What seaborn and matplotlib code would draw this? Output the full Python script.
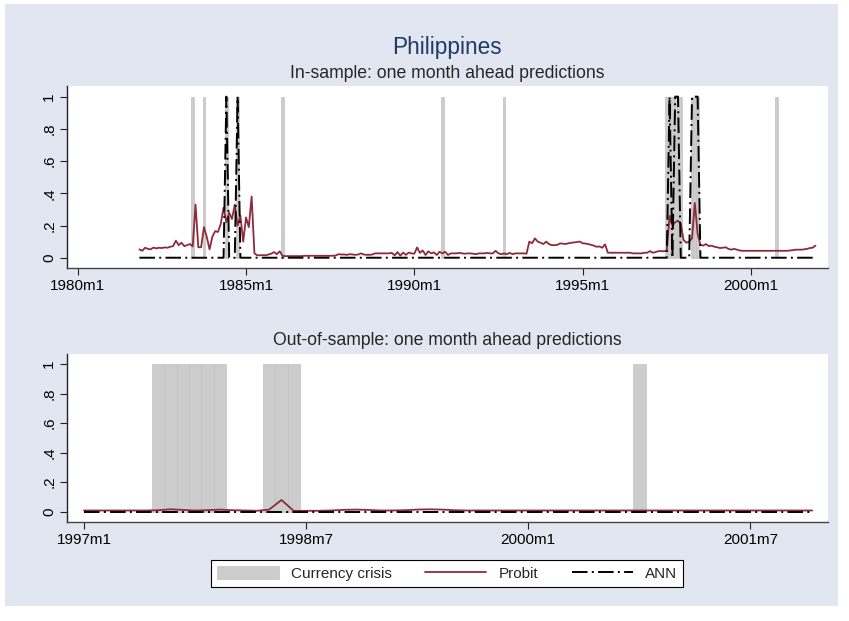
import numpy as np
import pandas as pd
import matplotlib
matplotlib.use("Agg")
import matplotlib.pyplot as plt
import seaborn as sns
from matplotlib.patches import Rectangle, Patch
from matplotlib.lines import Line2D

# Stata-style monthly dates (months since 1960m1)
def stata_month(s):
    y, m = s.split("m")
    return (int(y) - 1960) * 12 + int(m) - 1

# crisis months
crisis_in = ["1983m6", "1983m10", "1984m6", "1984m10", "1986m2", "1990m11",
             "1992m9", "1997m7", "1997m8", "1997m9", "1997m10", "1997m11",
             "1997m12", "1998m4", "1998m5", "1998m6", "2000m10"]
crisis_out = ["1997m7", "1997m8", "1997m9", "1997m10", "1997m11", "1997m12",
              "1998m4", "1998m5", "1998m6", "2000m10"]

# in-sample predictions, 1981m11 - 2001m12
in_start = "1981m11"
probit_in = [
    0.052, 0.043,                                                              # 1981
    0.062, 0.055, 0.052, 0.063, 0.058, 0.062, 0.060, 0.064, 0.062, 0.068, 0.072, 0.106,  # 1982
    0.078, 0.093, 0.072, 0.078, 0.085, 0.070, 0.330, 0.065, 0.065, 0.190, 0.130, 0.052,  # 1983
    0.130, 0.165, 0.160, 0.210, 0.310, 0.220, 0.280, 0.240, 0.330, 0.200, 0.260, 0.100,  # 1984
    0.250, 0.190, 0.380, 0.027, 0.015, 0.015, 0.016, 0.015, 0.020, 0.025, 0.035, 0.022,  # 1985
    0.040, 0.012, 0.010, 0.010, 0.010, 0.010, 0.010, 0.010, 0.010, 0.012, 0.012, 0.012,  # 1986
    0.012, 0.012, 0.012, 0.012, 0.012, 0.012, 0.012, 0.012, 0.014, 0.022, 0.020, 0.020,  # 1987
    0.018, 0.022, 0.020, 0.018, 0.020, 0.027, 0.020, 0.018, 0.018, 0.020, 0.027, 0.027,  # 1988
    0.027, 0.027, 0.027, 0.027, 0.030, 0.015, 0.035, 0.013, 0.032, 0.018, 0.032, 0.027,  # 1989
    0.025, 0.064, 0.030, 0.045, 0.017, 0.040, 0.027, 0.033, 0.017, 0.037, 0.027, 0.037,  # 1990
    0.017, 0.027, 0.027, 0.027, 0.030, 0.027, 0.025, 0.027, 0.027, 0.025, 0.022, 0.027,  # 1991
    0.027, 0.027, 0.030, 0.027, 0.027, 0.043, 0.027, 0.022, 0.027, 0.022, 0.030, 0.022,  # 1992
    0.027, 0.027, 0.027, 0.027, 0.025, 0.100, 0.090, 0.120, 0.100, 0.093, 0.085, 0.100,  # 1993
    0.085, 0.078, 0.078, 0.080, 0.089, 0.087, 0.085, 0.090, 0.093, 0.095, 0.098, 0.100,  # 1994
    0.090, 0.088, 0.085, 0.080, 0.075, 0.068, 0.070, 0.062, 0.083, 0.031, 0.031, 0.031,  # 1995
    0.031, 0.031, 0.031, 0.031, 0.031, 0.031, 0.027, 0.027, 0.027, 0.027, 0.031, 0.031,  # 1996
    0.041, 0.031, 0.035, 0.041, 0.041, 0.040, 0.045, 0.260, 0.200, 0.220, 0.230, 0.210,  # 1997
    0.110, 0.093, 0.100, 0.120, 0.340, 0.150, 0.080, 0.075, 0.085, 0.072, 0.075, 0.068,  # 1998
    0.065, 0.060, 0.062, 0.065, 0.055, 0.050, 0.055, 0.050, 0.045, 0.043, 0.043, 0.043,  # 1999
    0.043, 0.043, 0.043, 0.043, 0.043, 0.043, 0.043, 0.043, 0.043, 0.043, 0.043, 0.043,  # 2000
    0.043, 0.043, 0.045, 0.047, 0.050, 0.050, 0.050, 0.052, 0.055, 0.060, 0.062, 0.075,  # 2001
]
# months where the in-sample ANN signal is 1 (0 otherwise)
ann_in_ones = ["1984m6", "1984m10", "1997m8", "1997m10", "1997m11",
               "1998m4", "1998m5", "1998m6"]

# out-of-sample predictions, 1997m1 - 2001m12 (ANN is 0 throughout)
out_start = "1997m1"
probit_out = [
    0.008, 0.008, 0.008, 0.008, 0.008, 0.008, 0.010, 0.016, 0.012, 0.008, 0.010, 0.014,  # 1997
    0.010, 0.008, 0.006, 0.014, 0.079, 0.005, 0.006, 0.006, 0.008, 0.012, 0.014, 0.012,  # 1998
    0.008, 0.008, 0.010, 0.014, 0.016, 0.014, 0.010, 0.008, 0.008, 0.008, 0.008, 0.008,  # 1999
    0.008, 0.008, 0.008, 0.008, 0.008, 0.008, 0.008, 0.008, 0.008, 0.008, 0.008, 0.008,  # 2000
    0.008, 0.008, 0.008, 0.008, 0.008, 0.008, 0.008, 0.008, 0.008, 0.008, 0.008, 0.008,  # 2001
]

ticks_in = ["1980m1", "1985m1", "1990m1", "1995m1", "2000m1"]
ticks_out = ["1997m1", "1998m7", "2000m1", "2001m7"]
yticks = [0, 0.2, 0.4, 0.6, 0.8, 1]
ylabels = ["0", ".2", ".4", ".6", ".8", "1"]

# tables
t_in = stata_month(in_start) + np.arange(len(probit_in))
ann_set = {stata_month(s) for s in ann_in_ones}
df_in = pd.DataFrame({"t": t_in, "probit": probit_in,
                      "ann": [1.0 if t in ann_set else 0.0 for t in t_in]})
t_out = stata_month(out_start) + np.arange(len(probit_out))
df_out = pd.DataFrame({"t": t_out, "probit": probit_out,
                       "ann": [0.0] * len(probit_out)})

BG = "#E1E6F0"
BAR = "#CCCCCC"
RED = "#8E2B3B"
DASHDOT = (0, (8, 2.2, 1, 2.2))

sns.set_style("ticks")
plt.rcParams["font.family"] = ["Liberation Sans", "DejaVu Sans"]

fig = plt.figure(figsize=(8.49, 6.21), dpi=100, facecolor="white")
fig.patches.append(Rectangle((5 / 849, 1 - 606 / 621), 833 / 849, 602 / 621,
                             transform=fig.transFigure, facecolor=BG,
                             edgecolor="none", zorder=-10))

ax1 = fig.add_axes([0.0793, 0.5689, 0.8957, 0.2926])
ax2 = fig.add_axes([0.0793, 0.1599, 0.8962, 0.2700])


def draw(ax, df, crisis, ticks, xlim, ylim):
    ax.set_facecolor("white")
    xc = [stata_month(s) for s in crisis]
    ax.bar(xc, [1.0] * len(xc), width=1.0, color=BAR, edgecolor="#C2C2C2",
           linewidth=0.5, zorder=1)
    sns.lineplot(data=df, x="t", y="probit", ax=ax, color=RED, lw=1.3,
                 zorder=3, legend=False)
    sns.lineplot(data=df, x="t", y="ann", ax=ax, color="black", lw=1.4,
                 linestyle=DASHDOT, zorder=4, legend=False)
    ax.set_xlim(*xlim)
    ax.set_ylim(*ylim)
    ax.set_xticks([stata_month(s) for s in ticks])
    ax.set_xticklabels(ticks, fontsize=11)
    ax.set_yticks(yticks)
    ax.set_yticklabels(ylabels, fontsize=11, rotation=90, va="center")
    ax.set_xlabel("")
    ax.set_ylabel("")
    for s in ["top", "right"]:
        ax.spines[s].set_visible(False)
    ax.spines["left"].set_color("#222222")
    ax.spines["bottom"].set_color("#444444")
    ax.spines["left"].set_linewidth(1.0)
    ax.spines["bottom"].set_linewidth(1.0)
    ax.tick_params(axis="both", length=5, width=0.8, color="#222222",
                   labelcolor="black", pad=3)


draw(ax1, df_in, crisis_in, ticks_in,
     (stata_month("1980m1") - 3.7, stata_month("1980m1") + 267.4), (-0.062, 1.066))
draw(ax2, df_out, crisis_out, ticks_out,
     (stata_month("1997m1") - 1.35, stata_month("1997m1") + 60.3), (-0.068, 1.068))

fig.text(0.527, 0.923, "Philippines", ha="center", va="center",
         fontsize=16.3, color="#1F3A68")
fig.text(0.527, 0.882, "In-sample: one month ahead predictions",
         ha="center", va="center", fontsize=12.7)
fig.text(0.527, 0.451, "Out-of-sample: one month ahead predictions",
         ha="center", va="center", fontsize=12.7)

handles = [Patch(facecolor=BAR, edgecolor="#C2C2C2", linewidth=0.5),
           Line2D([], [], color=RED, lw=1.3),
           Line2D([], [], color="black", lw=1.4, linestyle=DASHDOT)]
leg = fig.legend(handles, ["Currency crisis", "Probit", "ANN"], ncol=3,
                 loc="center", bbox_to_anchor=(0.527, 0.077), fontsize=11,
                 frameon=True, fancybox=False, edgecolor="black",
                 facecolor="white", framealpha=1, handlelength=4.0,
                 handleheight=0.95, handletextpad=0.8, columnspacing=2.2,
                 borderpad=0.4)
leg.get_frame().set_linewidth(0.8)

fig.savefig("out.png", dpi=100, facecolor=fig.get_facecolor())
